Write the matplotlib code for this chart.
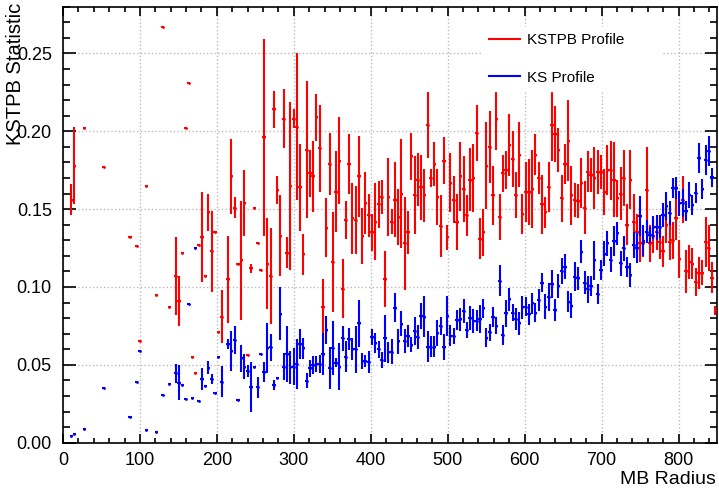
import numpy as np
import matplotlib
matplotlib.use("Agg")
import matplotlib.pyplot as plt
from matplotlib.lines import Line2D
from matplotlib.ticker import MultipleLocator, FormatStrFormatter

plt.rcParams['font.family'] = ['Liberation Sans', 'DejaVu Sans']

# KSTPB profile: bin centre, mean, error
red_x = [10.6, 14.9, 27.6, 53.1, 87.1, 95.6, 99.9, 108.4, 121.1, 129.6, 138.1, 146.6, 150.9, 155.1,
         159.4, 163.6, 167.9, 172.1, 176.4, 180.6, 184.9, 189.1, 193.4, 197.6, 201.9, 206.1, 214.6,
         218.9, 223.1, 227.4, 231.6, 235.9, 240.1, 244.4, 248.6, 252.9, 257.1, 261.4, 265.6, 269.9,
         274.1, 278.4, 282.6, 286.9, 291.1, 295.4, 299.6, 303.9, 308.1, 312.4, 316.6, 320.9, 325.1,
         329.4, 333.6, 337.9, 342.1, 346.4, 350.6, 354.9, 359.1, 363.4, 367.6, 371.9, 376.1, 380.4,
         384.6, 388.9, 393.1, 397.4, 401.6, 405.9, 410.1, 414.4, 418.6, 422.9, 427.1, 431.4, 435.6,
         439.9, 444.1, 448.4, 452.6, 456.9, 461.1, 465.4, 469.6, 473.9, 478.1, 482.4, 486.6, 490.9,
         495.1, 499.4, 503.6, 507.9, 512.1, 516.4, 520.6, 524.9, 529.1, 533.4, 537.6, 541.9, 546.1,
         550.4, 554.6, 558.9, 563.1, 567.4, 571.6, 575.9, 580.1, 584.4, 588.6, 592.9, 597.1, 601.4,
         605.6, 609.9, 614.1, 618.4, 622.6, 626.9, 631.1, 635.4, 639.6, 643.9, 648.1, 652.4, 656.6,
         660.9, 665.1, 669.4, 673.6, 677.9, 682.1, 686.4, 690.6, 694.9, 699.1, 703.4, 707.6, 711.9,
         716.1, 720.4, 724.6, 728.9, 733.1, 737.4, 741.6, 745.9, 750.1, 754.4, 758.6, 762.9, 767.1,
         771.4, 775.6, 779.9, 784.1, 788.4, 792.6, 796.9, 801.1, 805.4, 809.6, 813.9, 818.1, 822.4,
         826.6, 830.9, 835.1, 839.4, 843.6, 847.9]
red_y = [0.156, 0.178, 0.202, 0.177, 0.132, 0.126, 0.065, 0.165, 0.095, 0.267, 0.087, 0.107, 0.091, 0.122,
         0.202, 0.231, 0.055, 0.045, 0.127, 0.132, 0.107, 0.148, 0.123, 0.135, 0.071, 0.081, 0.105,
         0.171, 0.151, 0.115, 0.117, 0.154, 0.056, 0.112, 0.151, 0.128, 0.111, 0.196, 0.115, 0.107,
         0.214, 0.162, 0.133, 0.208, 0.122, 0.165, 0.208, 0.203, 0.164, 0.121, 0.188, 0.173, 0.171,
         0.209, 0.189, 0.087, 0.138, 0.179, 0.116, 0.161, 0.181, 0.099, 0.143, 0.179, 0.144, 0.143,
         0.171, 0.133, 0.154, 0.146, 0.135, 0.142, 0.153, 0.158, 0.105, 0.158, 0.142, 0.156, 0.145,
         0.160, 0.128, 0.135, 0.184, 0.159, 0.169, 0.164, 0.159, 0.204, 0.170, 0.179, 0.158, 0.139,
         0.181, 0.132, 0.167, 0.156, 0.142, 0.171, 0.163, 0.146, 0.169, 0.170, 0.199, 0.131, 0.135,
         0.178, 0.190, 0.159, 0.208, 0.145, 0.173, 0.175, 0.191, 0.182, 0.159, 0.185, 0.147, 0.161,
         0.161, 0.163, 0.185, 0.170, 0.153, 0.148, 0.164, 0.204, 0.198, 0.188, 0.157, 0.179, 0.194,
         0.159, 0.156, 0.155, 0.167, 0.151, 0.174, 0.172, 0.170, 0.174, 0.174, 0.161, 0.175, 0.175,
         0.169, 0.157, 0.160, 0.170, 0.140, 0.169, 0.142, 0.135, 0.128, 0.128, 0.162, 0.128, 0.133,
         0.135, 0.129, 0.123, 0.140, 0.129, 0.130, 0.144, 0.118, 0.156, 0.110, 0.116, 0.115, 0.103,
         0.109, 0.109, 0.129, 0.125, 0.106, 0.085]
red_err = [0.010, 0.025, 0, 0, 0, 0, 0, 0, 0, 0, 0, 0.025, 0.016, 0,
           0, 0, 0, 0, 0, 0.029, 0, 0.012, 0.026, 0, 0, 0.017, 0.028,
           0.024, 0.007, 0, 0.038, 0.021, 0, 0.003, 0, 0, 0, 0.063, 0.029, 0.031,
           0.012, 0.009, 0.026, 0.019, 0.010, 0.054, 0.006, 0.047, 0.028, 0.013, 0.044, 0.015, 0.023,
           0.015, 0.028, 0.018, 0.019, 0.020, 0.032, 0.026, 0.028, 0.019, 0.012, 0.019, 0.023, 0.022,
           0.026, 0.018, 0.020, 0.014, 0.012, 0.025, 0.015, 0.011, 0.018, 0.025, 0.008, 0.024, 0.018,
           0.035, 0.030, 0.014, 0.015, 0.025, 0.017, 0.021, 0.017, 0.021, 0.006, 0.014, 0.018, 0.020,
           0.015, 0.008, 0.019, 0.015, 0.018, 0.022, 0.021, 0.013, 0.020, 0.022, 0.018, 0.013, 0.015,
           0.028, 0.023, 0.019, 0.020, 0.015, 0.012, 0.012, 0.020, 0.018, 0.015, 0.021, 0.013, 0.019,
           0.021, 0.025, 0.013, 0.010, 0.019, 0.010, 0.016, 0.023, 0.018, 0.014, 0.015, 0.013, 0.026,
           0.019, 0.011, 0.011, 0.016, 0.017, 0.013, 0.011, 0.020, 0.014, 0.011, 0.015, 0.016, 0.019,
           0.024, 0.012, 0.017, 0.018, 0.013, 0.019, 0.018, 0.012, 0.012, 0.009, 0.028, 0.012, 0.011,
           0.011, 0.011, 0.010, 0.012, 0.012, 0.012, 0.014, 0.012, 0.015, 0.014, 0.011, 0.010, 0.009,
           0.010, 0.008, 0.016, 0.015, 0.010, 0.003]

# KS profile
blue_x = [10.6, 14.9, 27.6, 53.1, 87.1, 95.6, 99.9, 108.4, 121.1, 129.6, 138.1, 146.6, 150.9, 155.1,
          159.4, 163.6, 167.9, 172.1, 176.4, 180.6, 184.9, 189.1, 193.4, 197.6, 201.9, 206.1, 214.6,
          218.9, 223.1, 227.4, 231.6, 235.9, 240.1, 244.4, 248.6, 252.9, 257.1, 261.4, 265.6, 269.9,
          274.1, 278.4, 282.6, 286.9, 291.1, 295.4, 299.6, 303.9, 308.1, 312.4, 316.6, 320.9, 325.1,
          329.4, 333.6, 337.9, 342.1, 346.4, 350.6, 354.9, 359.1, 363.4, 367.6, 371.9, 376.1, 380.4,
          384.6, 388.9, 393.1, 397.4, 401.6, 405.9, 410.1, 414.4, 418.6, 422.9, 427.1, 431.4, 435.6,
          439.9, 444.1, 448.4, 452.6, 456.9, 461.1, 465.4, 469.6, 473.9, 478.1, 482.4, 486.6, 490.9,
          495.1, 499.4, 503.6, 507.9, 512.1, 516.4, 520.6, 524.9, 529.1, 533.4, 537.6, 541.9, 546.1,
          550.4, 554.6, 558.9, 563.1, 567.4, 571.6, 575.9, 580.1, 584.4, 588.6, 592.9, 597.1, 601.4,
          605.6, 609.9, 614.1, 618.4, 622.6, 626.9, 631.1, 635.4, 639.6, 643.9, 648.1, 652.4, 656.6,
          660.9, 665.1, 669.4, 673.6, 677.9, 682.1, 686.4, 690.6, 694.9, 699.1, 703.4, 707.6, 711.9,
          716.1, 720.4, 724.6, 728.9, 733.1, 737.4, 741.6, 745.9, 750.1, 754.4, 758.6, 762.9, 767.1,
          771.4, 775.6, 779.9, 784.1, 788.4, 792.6, 796.9, 801.1, 805.4, 809.6, 813.9, 818.1, 822.4,
          826.6, 830.9, 835.1, 839.4, 843.6]
blue_y = [0.0045, 0.0054, 0.0088, 0.0353, 0.0163, 0.0388, 0.0591, 0.0082, 0.0067, 0.0309, 0.0377, 0.0446,
          0.0386, 0.0370, 0.0279, 0.0889, 0.0285, 0.125, 0.0268, 0.041, 0.0366, 0.0482, 0.041, 0.0321,
          0.0548, 0.0392, 0.0634, 0.059, 0.066, 0.0274, 0.0542, 0.0488, 0.046, 0.0356, 0.0488, 0.0356,
          0.0567, 0.0456, 0.0606, 0.0612, 0.037, 0.0413, 0.0827, 0.0488, 0.057, 0.0484, 0.0488, 0.0505,
          0.0634, 0.0606, 0.0398, 0.0478, 0.0499, 0.0505, 0.0505, 0.057, 0.0724, 0.0482, 0.0606, 0.0514,
          0.0488, 0.067, 0.0552, 0.0664, 0.060, 0.060, 0.0767, 0.0525, 0.0525, 0.052, 0.068, 0.0643,
          0.060, 0.0531, 0.067, 0.058, 0.0585, 0.0867, 0.065, 0.0763, 0.065, 0.0686, 0.063, 0.0718,
          0.0677, 0.0814, 0.081, 0.0617, 0.0617, 0.0617, 0.0707, 0.075, 0.0617, 0.0814, 0.0686, 0.0686,
          0.0788, 0.0793, 0.0846, 0.0724, 0.080, 0.0782, 0.0782, 0.0793, 0.0863, 0.0675, 0.0709, 0.0805,
          0.0752, 0.104, 0.0692, 0.0831, 0.0921, 0.0835, 0.0793, 0.0767, 0.087, 0.0874, 0.0825, 0.0895,
          0.0835, 0.0917, 0.1028, 0.0874, 0.0938, 0.1018, 0.0853, 0.1007, 0.1103, 0.113, 0.0906, 0.088,
          0.1067, 0.1056, 0.1227, 0.1028, 0.0985, 0.1007, 0.117, 0.0955, 0.111, 0.1212, 0.128, 0.1174,
          0.1298, 0.1345, 0.1153, 0.1249, 0.113, 0.1078, 0.127, 0.1249, 0.1457, 0.1296, 0.1356, 0.1334,
          0.1382, 0.1382, 0.1388, 0.1463, 0.1521, 0.1474, 0.1634, 0.1634, 0.1538, 0.1538, 0.149, 0.1591,
          0.1527, 0.1606, 0.1827, 0.1628, 0.1816, 0.1876, 0.1703]
blue_err = [0, 0, 0, 0, 0, 0, 0, 0, 0, 0, 0, 0.006,
            0.011, 0, 0, 0, 0, 0, 0, 0.007, 0, 0.004, 0.003, 0,
            0, 0.010, 0.003, 0.013, 0.009, 0, 0.0086, 0.008, 0.004, 0.016, 0, 0.0066,
            0, 0.0064, 0.016, 0.0086, 0.003, 0, 0.017, 0.0086, 0.018, 0.0105, 0.012, 0.016,
            0.0096, 0.0067, 0.005, 0.0056, 0.006, 0.0054, 0.006, 0.0137, 0.009, 0.0135, 0.0174, 0.003,
            0.015, 0.008, 0.0098, 0.007, 0.007, 0.015, 0.015, 0.005, 0.004, 0.007, 0.005, 0.0064,
            0.0054, 0.005, 0.015, 0.0066, 0.008, 0.0094, 0.008, 0.008, 0.0077, 0.007, 0.005, 0.009,
            0.0078, 0.0086, 0.013, 0.010, 0.0066, 0.0066, 0.0083, 0.006, 0.0083, 0.013, 0.0067, 0.0053,
            0.0064, 0.0075, 0.0075, 0.0054, 0.0075, 0.0075, 0.0067, 0.009, 0.006, 0.006, 0.0054, 0.0064,
            0.0054, 0.010, 0.0064, 0.0086, 0.0075, 0.0054, 0.007, 0.0075, 0.0075, 0.006, 0.0068, 0.0066,
            0.006, 0.007, 0.006, 0.0078, 0.009, 0.009, 0.007, 0.0075, 0.0086, 0.0082, 0.0068, 0.008,
            0.0093, 0.0075, 0.0073, 0.0075, 0.0086, 0.0066, 0.0125, 0.0067, 0.0064, 0.008, 0.008, 0.008,
            0.0096, 0.0075, 0.008, 0.008, 0.0064, 0.0077, 0.0086, 0.0096, 0.0128, 0.010, 0.0072, 0.0054,
            0.0075, 0.0083, 0.0072, 0.0075, 0.009, 0.0075, 0.0064, 0.007, 0.008, 0.0088, 0.0064, 0.0086,
            0.0066, 0.0064, 0.0096, 0.0064, 0.0096, 0.0096, 0.0064]

bin_half = 850 / 200 / 2

fig = plt.figure(figsize=(7.19, 4.91), dpi=100)
ax = fig.add_axes([0.0876, 0.0984, 0.9096, 0.8880])

ax.errorbar(red_x, red_y, yerr=red_err, xerr=bin_half, fmt='.', color='red', markersize=2,
            elinewidth=1.5, capsize=0, zorder=3)
ax.errorbar(blue_x, blue_y, yerr=blue_err, xerr=bin_half, fmt='.', color='blue', markersize=2,
            elinewidth=1.5, capsize=0, zorder=4)

ax.set_xlim(0, 850)
ax.set_ylim(0, 0.28)
ax.xaxis.set_major_locator(MultipleLocator(100))
ax.xaxis.set_minor_locator(MultipleLocator(20))
ax.yaxis.set_major_locator(MultipleLocator(0.05))
ax.yaxis.set_minor_locator(MultipleLocator(0.01))
ax.yaxis.set_major_formatter(FormatStrFormatter('%.2f'))

ax.grid(True, which='major', linestyle=':', color='#bbbbbb', linewidth=1)
ax.set_axisbelow(True)
ax.tick_params(axis='both', which='both', direction='in', top=True, right=True,
               labelsize=13, width=1.2)
ax.tick_params(axis='x', which='major', length=6.5, pad=7)
ax.tick_params(axis='x', which='minor', length=3.6)
ax.tick_params(axis='y', which='major', length=9, pad=8)
ax.tick_params(axis='y', which='minor', length=5)
for s in ax.spines.values():
    s.set_linewidth(1.2)

# ROOT-style axis titles at the far ends of the axes
ax.set_xlabel('MB Radius', fontsize=14, loc='right')
ax.xaxis.set_label_coords(0.998, -0.064)
ax.set_ylabel('KSTPB Statistic', fontsize=14.5, loc='top')
ax.yaxis.set_label_coords(-0.058, 1.01)

handles = [Line2D([], [], color='red', lw=1.5), Line2D([], [], color='blue', lw=1.5)]
leg = ax.legend(handles, ['KSTPB Profile', 'KS Profile'], loc='center',
                bbox_to_anchor=(0.672, 0.795, 0.247, 0.17), bbox_transform=fig.transFigure,
                mode='expand', fontsize=11, frameon=True, fancybox=False, framealpha=1,
                edgecolor='white', handlelength=2.0, handletextpad=0.5, labelspacing=1.55,
                borderaxespad=0)
leg.set_zorder(5)

fig.savefig('out.png', dpi=100)
